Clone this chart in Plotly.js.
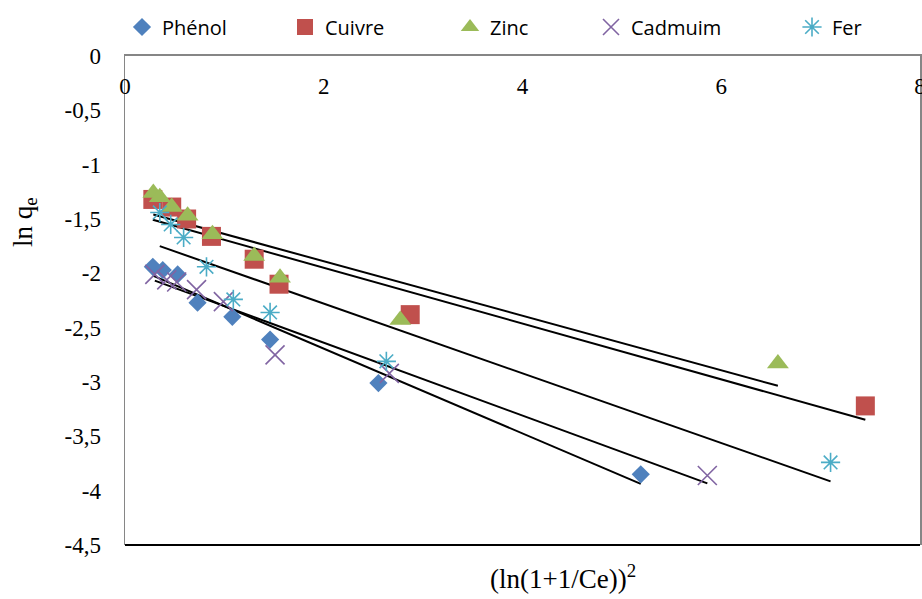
<!DOCTYPE html>
<html><head><meta charset="utf-8">
<script src="https://cdn.plot.ly/plotly-3.0.1.min.js"></script>
<style>html,body{margin:0;padding:0;background:#fff}#chart{width:922px;height:599px}</style>
</head><body><div id="chart"></div>
<script>
// Data
const seriesNames = ["Phénol", "Cuivre", "Zinc", "Cadmuim", "Fer"];
const phenolX = [0.28, 0.38, 0.53, 0.73, 1.08, 1.46, 2.55, 5.19];
const phenolY = [-1.94, -1.97, -2.01, -2.27, -2.40, -2.61, -3.01, -3.85];
const cuivreX = [0.28, 0.47, 0.62, 0.87, 1.30, 1.55, 2.87, 7.45];
const cuivreY = [-1.32, -1.39, -1.50, -1.66, -1.87, -2.10, -2.38, -3.22];
const zincX = [0.285, 0.35, 0.47, 0.63, 0.88, 1.30, 1.56, 2.77, 6.57];
const zincY = [-1.26, -1.30, -1.39, -1.47, -1.64, -1.84, -2.04, -2.43, -2.83];
const cadmiumX = [0.30, 0.42, 0.52, 0.72, 0.99, 1.51, 2.66, 5.86];
const cadmiumY = [-2.01, -2.06, -2.08, -2.15, -2.26, -2.75, -2.92, -3.86];
const ferX = [0.35, 0.46, 0.59, 0.82, 1.09, 1.46, 2.63, 7.10];
const ferY = [-1.44, -1.55, -1.67, -1.94, -2.24, -2.36, -2.81, -3.74];

const xTickVals = [0, 2, 4, 6, 8];
const xTickText = ["0", "2", "4", "6", "8"];
const yTickVals = [0, -0.5, -1, -1.5, -2, -2.5, -3, -3.5, -4, -4.5];
const yTickText = ["0", "-0,5", "-1", "-1,5", "-2", "-2,5", "-3", "-3,5", "-4", "-4,5"];

const xs = [phenolX, cuivreX, zincX, cadmiumX, ferX];
const ys = [phenolY, cuivreY, zincY, cadmiumY, ferY];
const colors = ["#4F81BD", "#C0504D", "#9BBB59", "#8064A2", "#4BACC6"];
const markers = [
  {symbol: "diamond", size: 14, color: colors[0]},
  {symbol: "square", size: 19, color: colors[1]},
  {symbol: "triangle-up", size: 19, color: colors[2]},
  {symbol: "x-thin-open", size: 19, color: colors[3], line: {color: colors[3], width: 1.6}},
  {symbol: "asterisk-open", size: 16, color: colors[4], line: {color: colors[4], width: 1.6}}
];
const legendTextLeft = [158, 321, 486, 627, 828];

// linear least-squares trend line from each series' own points
function fit(x, y) {
  const n = x.length;
  const mx = x.reduce((a, b) => a + b, 0) / n;
  const my = y.reduce((a, b) => a + b, 0) / n;
  let sxy = 0, sxx = 0;
  for (let i = 0; i < n; i++) { sxy += (x[i] - mx) * (y[i] - my); sxx += (x[i] - mx) ** 2; }
  const b = sxy / sxx, a = my - b * mx;
  const x0 = Math.min(...x), x1 = Math.max(...x);
  return {x: [x0, x1], y: [a + b * x0, a + b * x1]};
}

const traces = [];
const legends = {};
for (let i = 0; i < 5; i++) {
  const f = fit(xs[i], ys[i]);
  traces.push({x: f.x, y: f.y, mode: "lines", line: {color: "#000", width: 2}, showlegend: false, hoverinfo: "skip"});
}
for (let i = 0; i < 5; i++) {
  const lg = i === 0 ? "legend" : "legend" + (i + 1);
  traces.push({x: xs[i], y: ys[i], mode: "markers", name: seriesNames[i], marker: markers[i], legend: lg, cliponaxis: false});
  legends[lg] = {
    xref: "container", yref: "container",
    x: (legendTextLeft[i] - 36) / 922, y: 1 - 27 / 599,
    xanchor: "left", yanchor: "middle",
    orientation: "h", bgcolor: "rgba(0,0,0,0)", borderwidth: 0,
    font: {family: "Open Sans, sans-serif", size: 20, color: "#000"}
  };
}

const layout = Object.assign({
  width: 922, height: 599,
  margin: {l: 125, r: 2, t: 56, b: 54},
  paper_bgcolor: "#fff", plot_bgcolor: "#fff",
  showlegend: true,
  xaxis: {
    range: [0, 8], side: "top", tickvals: xTickVals, ticktext: xTickText,
    ticklabelposition: "inside", ticklabeloverflow: "allow", ticklabelstandoff: 24,
    ticks: "", showgrid: false, zeroline: false,
    showline: true, linecolor: "#868686", linewidth: 2,
    tickfont: {family: "Liberation Serif, Times New Roman, serif", size: 23, color: "#000"}
  },
  yaxis: {
    range: [-4.5, 0], tickvals: yTickVals, ticktext: yTickText,
    ticks: "", ticklabelstandoff: 18, showgrid: false, zeroline: false,
    showline: true, linecolor: "#868686", linewidth: 1.5, mirror: true,
    tickfont: {family: "Liberation Serif, Times New Roman, serif", size: 23, color: "#000"}
  },
  shapes: [
    {type: "line", xref: "paper", yref: "paper", x0: 0, x1: 1, y0: 0, y1: 0, line: {color: "#000", width: 2}}
  ],
  annotations: [
    {text: "ln q<sub>e</sub>", xref: "paper", yref: "paper", x: -0.126, y: 0.66, textangle: -90,
     showarrow: false, xanchor: "center", yanchor: "middle",
     font: {family: "Liberation Serif, Times New Roman, serif", size: 27, color: "#000"}},
    {text: "(ln(1+1/Ce))<sup>2</sup>", xref: "paper", yref: "paper", x: 0.551, y: -0.065,
     showarrow: false, xanchor: "center", yanchor: "middle",
     font: {family: "Liberation Serif, Times New Roman, serif", size: 27, color: "#000"}}
  ]
}, legends);

Plotly.newPlot("chart", traces, layout, {displayModeBar: false, staticPlot: true});
</script></body></html>
